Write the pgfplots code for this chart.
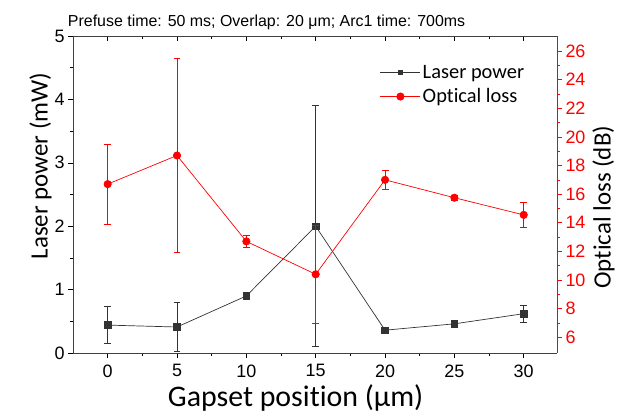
\documentclass[border=0pt]{standalone}
\usepackage{fontspec}
\setmainfont{Liberation Sans}
\newfontfamily\calibri[Ligatures=NoCommon]{Carlito}
\usepackage{pgfplots}
\pgfplotsset{compat=1.18}

\pgfplotstableread{
x    y     e
0    0.44  0.29
5    0.41  0.39
10   0.90  0.06
15   2.00  1.90
20   0.36  0.03
25   0.46  0.03
30   0.62  0.13
}\laser

\pgfplotstableread{
x    y      e
0    16.7   2.8
5    18.7   6.8
10   12.7   0.4
15   10.4   3.4
20   17.0   0.65
25   15.75  0.15
30   14.55  0.9
}\loss

\pgfplotsset{
  base/.style={
    scale only axis, width=484bp, height=317bp,
    xmin=-2.5, xmax=32.4,
    xtick={0,5,...,30}, minor x tick num=1,
    tick label style={font=\fontsize{18}{21}\selectfont},
    /pgf/number format/assume math mode=true,
    major tick length=5bp, minor tick length=3bp,
    every tick/.style={line width=0.6pt},
  },
}

\begin{document}
\begin{tikzpicture}
\useasboundingbox (-73bp,-63bp) rectangle (545bp,353bp);

% top axis ticks (inside)
\begin{axis}[base, axis x line*=top, hide y axis, tick align=inside,
  xticklabels={}, ymin=0, ymax=5,
  axis line style={black!75, line width=0.8pt}]
\end{axis}

% left axis: laser power
\begin{axis}[base,
  axis x line*=bottom, axis y line*=left, tick align=outside,
  ymin=0, ymax=5, ytick={0,1,...,5}, minor y tick num=1,
  axis line style={black!75, line width=0.8pt},
  x tick label style={yshift=-3bp},
  xlabel={\calibri\fontsize{30}{35}\selectfont Gapset position (µm)},
  ylabel={\calibri\fontsize{25}{30}\selectfont Laser power (mW)},
  xlabel style={at={(ticklabel cs:0.46)}, yshift=-1bp},
  ylabel style={at={(ticklabel cs:0.59)}, yshift=-4bp},
  title={\fontsize{16}{19}\selectfont Prefuse time: 50 ms; Overlap: 20 μm; Arc1 time: 700ms},
  title style={at={(0.40,1)}, yshift=-3bp},
]
\addplot[black!80, line width=0.7pt, mark=square*, mark size=3.3pt,
  error bars/.cd, y dir=both, y explicit,
  error mark options={rotate=90, mark size=3.5pt, line width=0.7pt, black!80},
  error bar style={line width=0.7pt, black!80}]
  table[x=x, y=y, y error=e] {\laser};
\end{axis}

% right axis: optical loss
\begin{axis}[base,
  axis x line=none, axis y line*=right, tick align=outside,
  ymin=4.9, ymax=27.05, ytick={6,8,...,26}, minor y tick num=1,
  axis line style={red, line width=0.8pt},
  y tick label style={red},
  ytick style={red},
  minor y tick style={red},
  ylabel={\calibri\fontsize{25}{30}\selectfont Optical loss (dB)},
  ylabel style={black, at={(ticklabel cs:0.46)}},
  legend style={at={(0.634,0.915)}, anchor=north west, draw=none, fill=none,
    font=\calibri\fontsize{20.5}{24}\selectfont, row sep=5bp,
    inner sep=0pt},
  legend cell align=left,
  legend image post style={line width=0.7pt},
  legend image code/.code={
    \draw[#1] (0bp,0bp) -- (40bp,0bp);
    \draw[#1, mark repeat=2, mark phase=2] plot coordinates {(0bp,0bp) (20bp,0bp) (40bp,0bp)};
  },
]
\addlegendimage{black!80, mark=square*, mark size=2.4pt, line width=0.7pt}
\addlegendentry{Laser power}
\addplot[red, line width=0.7pt, mark=*, mark size=3.7pt,
  error bars/.cd, y dir=both, y explicit,
  error mark options={rotate=90, mark size=3.5pt, line width=0.7pt, red},
  error bar style={line width=0.7pt, red}]
  table[x=x, y=y, y error=e] {\loss};
\addlegendentry{Optical loss}
\end{axis}
\end{tikzpicture}
\end{document}
